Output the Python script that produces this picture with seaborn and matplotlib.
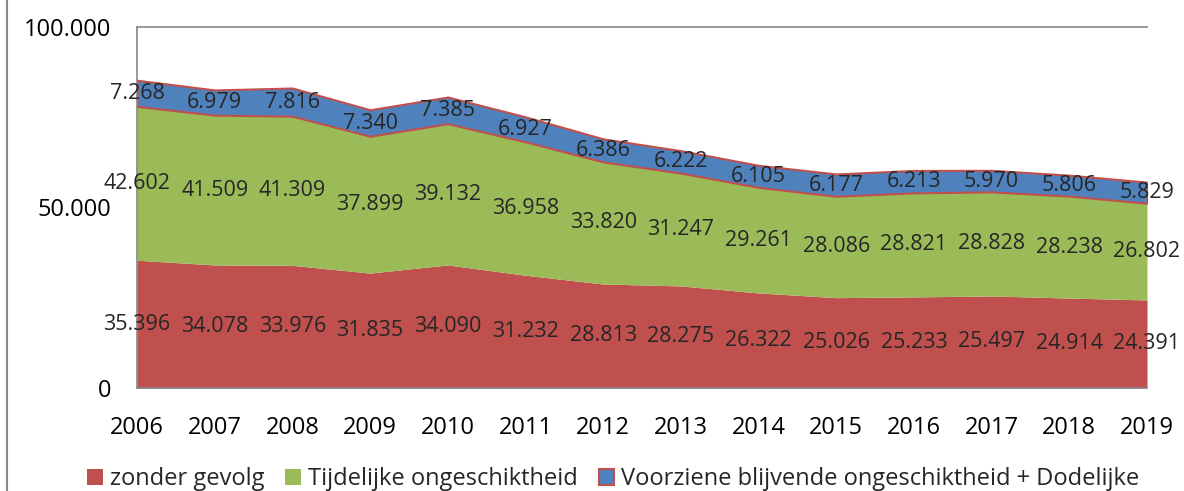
import matplotlib
matplotlib.use("Agg")
import matplotlib.pyplot as plt
import seaborn as sns
import numpy as np
from matplotlib.patches import Patch
from matplotlib.lines import Line2D

years = [2006, 2007, 2008, 2009, 2010, 2011, 2012, 2013, 2014, 2015, 2016, 2017, 2018, 2019]
zonder_gevolg = [35396, 34078, 33976, 31835, 34090, 31232, 28813, 28275, 26322, 25026, 25233, 25497, 24914, 24391]
tijdelijk = [42602, 41509, 41309, 37899, 39132, 36958, 33820, 31247, 29261, 28086, 28821, 28828, 28238, 26802]
blijvend = [7268, 6979, 7816, 7340, 7385, 6927, 6386, 6222, 6105, 6177, 6213, 5970, 5806, 5829]

series_names = ["zonder gevolg", "Tijdelijke ongeschiktheid",
                "Voorziene blijvende ongeschiktheid + Dodelijke"]
colors = ["#C0504D", "#9BBB59", "#4F81BD"]

sns.set_style("white")
plt.rcParams["font.family"] = ["Open Sans", "DejaVu Sans"]

fig = plt.figure(figsize=(11.84, 4.91), dpi=100)
ax = fig.add_axes([137 / 1184, 1 - 388 / 491, 1010 / 1184, 361 / 491])

x = np.array(years)
s1 = np.array(zonder_gevolg)
s2 = np.array(tijdelijk)
s3 = np.array(blijvend)

ax.fill_between(x, 0, s1, color=colors[0], lw=0)
ax.fill_between(x, s1, s1 + s2, color=colors[1], lw=0)
ax.fill_between(x, s1 + s2, s1 + s2 + s3, facecolor=colors[2],
                edgecolor=colors[0], lw=1.5)

# data labels in the middle of each band
fmt = lambda v: f"{v:,}".replace(",", ".")
for xi, a, b, c in zip(x, s1, s2, s3):
    ax.text(xi, a / 2, fmt(a), ha="center", va="center", fontsize=15.5)
    ax.text(xi, a + b / 2, fmt(b), ha="center", va="center", fontsize=15.5)
    ax.text(xi, a + b + c / 2, fmt(c), ha="center", va="center", fontsize=15.5)

ax.set_xlim(2006, 2019)
ax.set_ylim(0, 100000)
ax.set_xticks(years)
ax.set_yticks([0, 50000, 100000])
ax.set_yticklabels(["0", "50.000", "100.000"])
ax.tick_params(axis="both", direction="out", length=6.5, width=1.2,
               color="#868686", labelsize=17, labelcolor="black")
ax.tick_params(axis="x", pad=14)
ax.tick_params(axis="y", pad=12)
for side in ["left", "bottom", "top"]:
    ax.spines[side].set_color("#868686")
    ax.spines[side].set_linewidth(1.2)
ax.spines["right"].set_visible(False)
ax.grid(False)

# chart frame on the left
fig.add_artist(Line2D([7 / 1184, 7 / 1184], [0, 1], color="#868686", lw=1.5,
                      transform=fig.transFigure))

handles = [Patch(facecolor=colors[0], edgecolor="none"),
           Patch(facecolor=colors[1], edgecolor="none"),
           Patch(facecolor=colors[2], edgecolor=colors[0], lw=1.5)]
fig.legend(handles, series_names, loc="center", bbox_to_anchor=(0.518, 1 - 479 / 491),
           ncol=3, frameon=False, fontsize=17, handlelength=0.65, handleheight=0.65,
           handletextpad=0.3, columnspacing=0.9)

fig.savefig("out.png", dpi=100)
